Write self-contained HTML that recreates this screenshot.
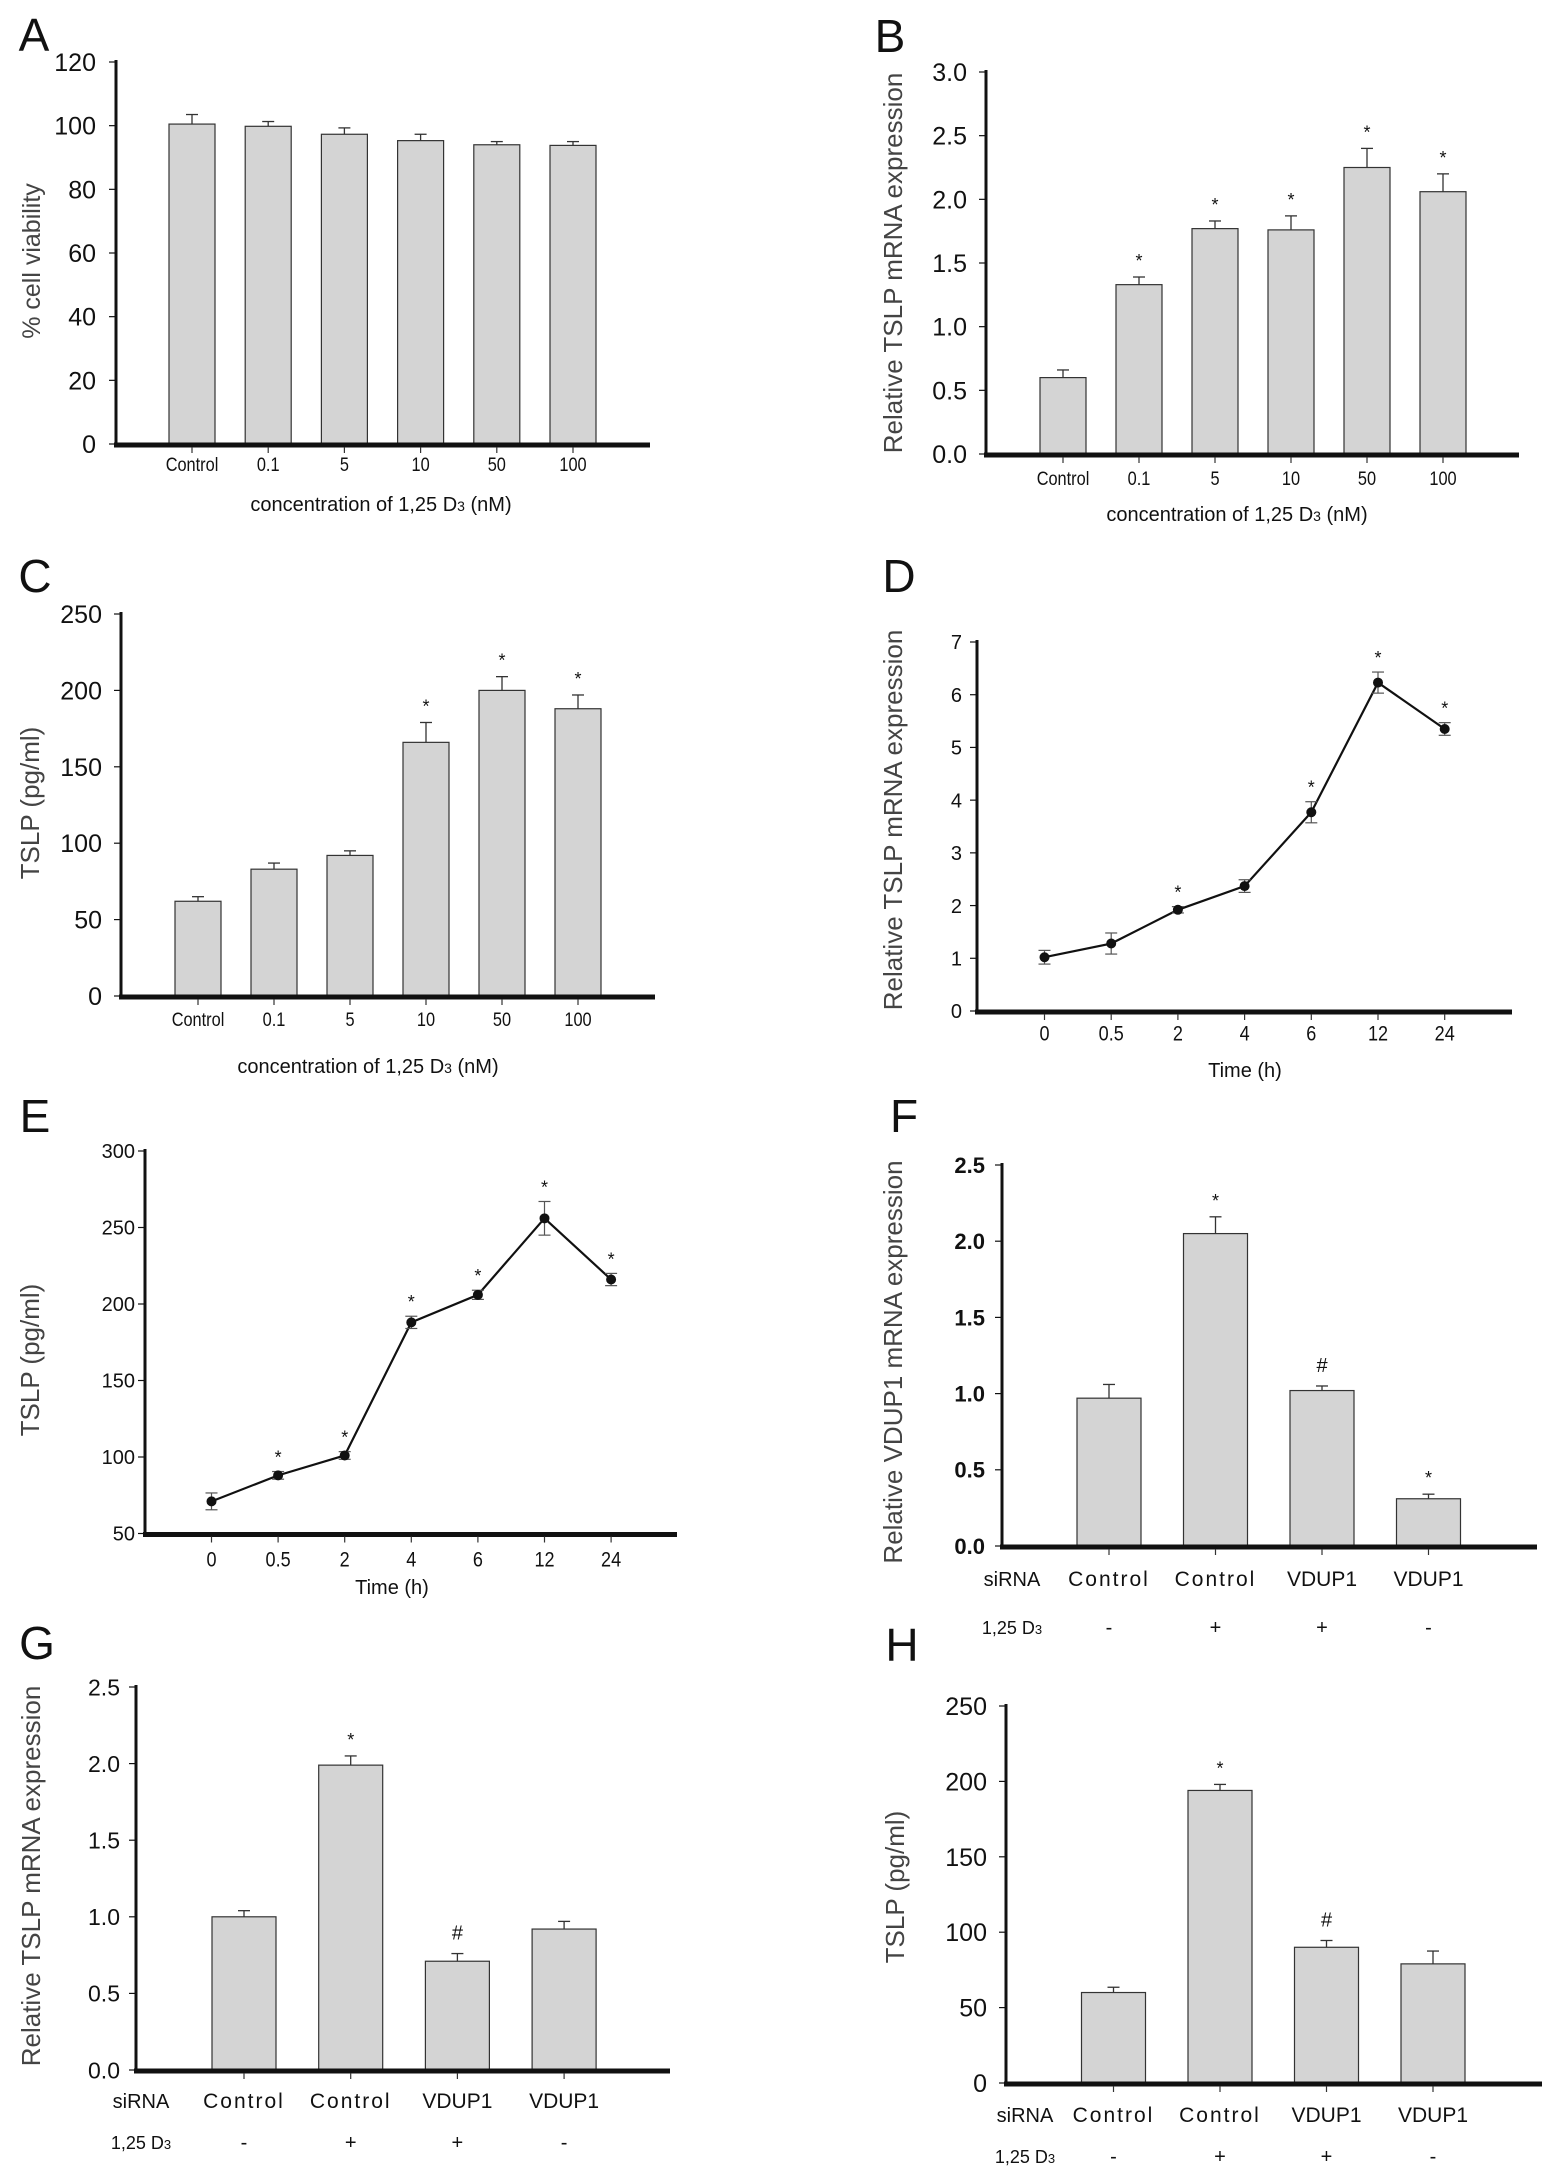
<!DOCTYPE html>
<html><head><meta charset="utf-8"><style>
html,body{margin:0;padding:0;background:#fff;}
svg{display:block;}
text{font-family:"Liberation Sans",sans-serif;}
</style></head><body>
<svg id="fig" xmlns="http://www.w3.org/2000/svg" width="1555" height="2168" viewBox="0 0 1555 2168"></svg>
<script>
// ---- data ----
const concCats = ["Control","0.1","5","10","50","100"];
const aVals = [100.5,99.8,97.3,95.3,94,93.8];
const aErr  = [3,1.5,2,2,1,1.2];
const aMarks = ["","","","","",""];
const aTicks = [0,20,40,60,80,100,120];

const bVals = [0.6,1.33,1.77,1.76,2.25,2.06];
const bErr  = [0.06,0.06,0.06,0.11,0.15,0.14];
const bMarks = ["","*","*","*","*","*"];
const bTicks = [0,0.5,1,1.5,2,2.5,3];

const cVals = [62,83,92,166,200,188];
const cErr  = [3,4,3,13,9,9];
const cMarks = ["","","","*","*","*"];
const cTicks = [0,50,100,150,200,250];

const timeCats = ["0","0.5","2","4","6","12","24"];
const dVals = [1.02,1.28,1.92,2.37,3.77,6.23,5.35];
const dErr  = [0.13,0.2,0.06,0.12,0.2,0.2,0.12];
const dMarks = ["","","*","","*","*","*"];
const dTicks = [0,1,2,3,4,5,6,7];

const eVals = [71,88,101,188,206,256,216];
const eErr  = [5.5,2.5,2.5,4,3,11,4];
const eMarks = ["","*","*","*","*","*","*"];
const eTicks = [50,100,150,200,250,300];

const sirnaCats = ["Control","Control","VDUP1","VDUP1"];
const d3Cats = ["-","+","+","-"];
const fVals = [0.97,2.05,1.02,0.31];
const fErr  = [0.09,0.11,0.03,0.03];
const fMarks = ["","*","#","*"];
const gVals = [1.0,1.99,0.71,0.92];
const gErr  = [0.04,0.06,0.05,0.05];
const gMarks = ["","*","#",""];
const siTicks = [0,0.5,1,1.5,2,2.5];
const hVals = [60,194,90,79];
const hErr  = [3.5,4,4.5,8.5];
const hMarks = ["","*","#",""];
const hTicks = [0,50,100,150,200,250];

// ---- drawing ----
const svg = document.getElementById('fig');
const NS = "http://www.w3.org/2000/svg";
function mk(tag, attrs, parent){
  const e = document.createElementNS(NS, tag);
  for (const k in attrs) e.setAttribute(k, attrs[k]);
  (parent||svg).appendChild(e);
  return e;
}
function txt(s, x, y, size, anchor, parent, extra){
  const t = mk('text', Object.assign({x:x, y:y, 'font-size':size, 'text-anchor':anchor||'middle', fill:'#111'}, extra||{}), parent);
  t.textContent = s;
  return t;
}

function panel(p){
  const g = mk('g', {});
  
  
  const L = txt(p.id, p.letter[0], p.letter[1] + 16, 46, 'middle', g);
  
  
  const y = v => p.yBot - (v - p.yMin) / (p.yMax - p.yMin) * (p.yBot - p.yTop);
  const x = i => p.x0 + i * p.step;
  const ya = mk('line', {x1:p.axisX, y1:p.yTop - 2, x2:p.axisX, y2:p.yBot, stroke:'#111', 'stroke-width':3}, g);
  
  
  p.ticks.forEach(v => {
    mk('line', {x1:p.axisX - 7, y1:y(v), x2:p.axisX, y2:y(v), stroke:'#111', 'stroke-width':1.2}, g);
    const t = txt(p.fmt(v), p.tickRight, y(v) + p.tickSize * 0.36, p.tickSize, 'end', g, p.boldTicks ? {'font-weight':'bold'} : {});
    
    
  });
  const yt = txt(p.yTitle, 0, 0, p.yTitleSize || 26, 'middle', g, {fill:'#444', transform:`translate(${p.yTitleX + 9},${p.yTitleY}) rotate(-90)`});
  
  
  if (p.type === 'bar'){
    p.vals.forEach((v, i) => {
      const cx = x(i);
      const r = mk('rect', {x:cx - p.w/2, y:y(v), width:p.w, height:p.yBot - y(v), fill:'#d4d4d4', stroke:'#333', 'stroke-width':1.2}, g);
      
      
      const te = y(v + p.err[i]);
      mk('line', {x1:cx, y1:y(v), x2:cx, y2:te, stroke:'#333', 'stroke-width':1.3}, g);
      mk('line', {x1:cx - 6, y1:te, x2:cx + 6, y2:te, stroke:'#333', 'stroke-width':1.3}, g);
      if (p.marks[i]){
        const m = txt(p.marks[i], cx, te - (p.marks[i] === '#' ? 14 : 10), p.marks[i] === '#' ? 20 : 18, 'middle', g);
        
        
      }
    });
  } else {
    let d = '';
    p.vals.forEach((v, i) => { d += (i ? 'L' : 'M') + x(i) + ' ' + y(v); });
    const ln = mk('path', {d:d, fill:'none', stroke:'#111', 'stroke-width':2.2}, g);
    
    
    p.vals.forEach((v, i) => {
      const cx = x(i), t1 = y(v + p.err[i]), t2 = y(v - p.err[i]);
      mk('line', {x1:cx, y1:t1, x2:cx, y2:t2, stroke:'#555', 'stroke-width':1.2}, g);
      mk('line', {x1:cx - 6, y1:t1, x2:cx + 6, y2:t1, stroke:'#555', 'stroke-width':1.2}, g);
      mk('line', {x1:cx - 6, y1:t2, x2:cx + 6, y2:t2, stroke:'#555', 'stroke-width':1.2}, g);
      const c = mk('circle', {cx:cx, cy:y(v), r:5, fill:'#111'}, g);
      
      
      if (p.marks[i]){
        const m = txt(p.marks[i], cx, t1 - 8, 18, 'middle', g);
        
        
      }
    });
  }
  const xa = mk('line', {x1:p.axisX - 2, y1:p.yBot + 1, x2:p.axisEnd, y2:p.yBot + 1, stroke:'#111', 'stroke-width':5}, g);
  
  
  p.cats.forEach((c, i) => {
    mk('line', {x1:x(i), y1:p.yBot + 3, x2:x(i), y2:p.yBot + 9, stroke:'#333', 'stroke-width':1.2}, g);
    if (!p.rows){
      const t = txt(c, 0, 0, p.catSize, 'middle', g, {transform:`translate(${x(i)},${p.labelY + p.catSize*0.36}) scale(0.86,1)`});
      
      
    }
  });
  if (p.rows){
    p.cats.forEach((c, i) => {
      const t = txt(c, x(i), p.rows[0] + 8, 21, 'middle', g, c === 'Control' ? {'letter-spacing':'2'} : {});
      
      
      const s = txt(p.d3[i], x(i), p.rows[1] + 7, 20, 'middle', g);
      
      
    });
    const r1 = txt('siRNA', p.rowLabelX, p.rows[0] + 8, 20, 'middle', g);
    
    
    const r2 = mk('text', {x:p.rowLabelX, y:p.rows[1] + 7, 'font-size':18, 'text-anchor':'middle', fill:'#111'}, g);
    r2.innerHTML = '1,25 D<tspan font-size="13">3</tspan>';
    
    
  } else {
    const xt = mk('text', {x:p.titleX, y:p.titleY + 7, 'font-size':p.xTitleSize||20, 'text-anchor':'middle', fill:'#111'}, g);
    xt.innerHTML = p.xTitle;
    
    
  }
}
const f0 = v => String(v), f1 = v => v.toFixed(1);
const concTitle = 'concentration of 1,25 D<tspan font-size="14">3</tspan> (nM)';

panel({id:'A', type:'bar', letter:[34,35], axisX:116, yTop:62, yBot:444, yMin:0, yMax:120, ticks:aTicks, fmt:f0, tickRight:96, tickSize:25,
  x0:192, step:76.2, w:46, axisEnd:650, cats:concCats, vals:aVals, err:aErr, marks:aMarks, catSize:19, labelY:464,
  xTitle:concTitle, titleX:381, titleY:504, yTitle:'% cell viability', yTitleX:31, yTitleY:261, yTitleSize:25});
panel({id:'B', type:'bar', letter:[890,36], axisX:986, yTop:72, yBot:454, yMin:0, yMax:3, ticks:bTicks, fmt:f1, tickRight:967, tickSize:25,
  x0:1063, step:76, w:46, axisEnd:1519, cats:concCats, vals:bVals, err:bErr, marks:bMarks, catSize:19, labelY:478,
  xTitle:concTitle, titleX:1237, titleY:514, yTitle:'Relative TSLP mRNA expression', yTitleX:893, yTitleY:263});
panel({id:'C', type:'bar', letter:[35,576], axisX:121, yTop:614, yBot:996, yMin:0, yMax:250, ticks:cTicks, fmt:f0, tickRight:102, tickSize:25,
  x0:198, step:76, w:46, axisEnd:655, cats:concCats, vals:cVals, err:cErr, marks:cMarks, catSize:19, labelY:1019,
  xTitle:concTitle, titleX:368, titleY:1066, yTitle:'TSLP (pg/ml)', yTitleX:30, yTitleY:803});
panel({id:'D', type:'line', letter:[899,576], axisX:977, yTop:642, yBot:1011, yMin:0, yMax:7, ticks:dTicks, fmt:f0, tickRight:962, tickSize:20,
  x0:1044.5, step:66.7, axisEnd:1512, cats:timeCats, vals:dVals, err:dErr, marks:dMarks, catSize:21, labelY:1033,
  xTitle:'Time (h)', titleX:1245, titleY:1070, yTitle:'Relative TSLP mRNA expression', yTitleX:893, yTitleY:820});
panel({id:'E', type:'line', letter:[35,1116], axisX:145, yTop:1151, yBot:1533.5, yMin:50, yMax:300, ticks:eTicks, fmt:f0, tickRight:135, tickSize:20,
  x0:211.5, step:66.6, axisEnd:677, cats:timeCats, vals:eVals, err:eErr, marks:eMarks, catSize:21, labelY:1559,
  xTitle:'Time (h)', titleX:392, titleY:1587, yTitle:'TSLP (pg/ml)', yTitleX:30, yTitleY:1360});
panel({id:'F', type:'bar', letter:[904,1116], axisX:1002, yTop:1165, yBot:1546, yMin:0, yMax:2.5, ticks:siTicks, fmt:f1, tickRight:985, tickSize:22, boldTicks:true,
  x0:1109, step:106.5, w:64, axisEnd:1537, cats:sirnaCats, d3:d3Cats, rows:[1578,1627], rowLabelX:1012, vals:fVals, err:fErr, marks:fMarks,
  yTitle:'Relative VDUP1 mRNA expression', yTitleX:893, yTitleY:1362});
panel({id:'G', type:'bar', letter:[37,1643], axisX:136, yTop:1687, yBot:2070, yMin:0, yMax:2.5, ticks:siTicks, fmt:f1, tickRight:120, tickSize:23,
  x0:244, step:106.7, w:64, axisEnd:670, cats:sirnaCats, d3:d3Cats, rows:[2100,2142], rowLabelX:141, vals:gVals, err:gErr, marks:gMarks,
  yTitle:'Relative TSLP mRNA expression', yTitleX:31, yTitleY:1876});
panel({id:'H', type:'bar', letter:[902,1645], axisX:1006, yTop:1706, yBot:2083, yMin:0, yMax:250, ticks:hTicks, fmt:f0, tickRight:987, tickSize:25,
  x0:1113.5, step:106.5, w:64, axisEnd:1542, cats:sirnaCats, d3:d3Cats, rows:[2114,2156], rowLabelX:1025, vals:hVals, err:hErr, marks:hMarks,
  yTitle:'TSLP (pg/ml)', yTitleX:895, yTitleY:1887});
</script>
</body></html>
